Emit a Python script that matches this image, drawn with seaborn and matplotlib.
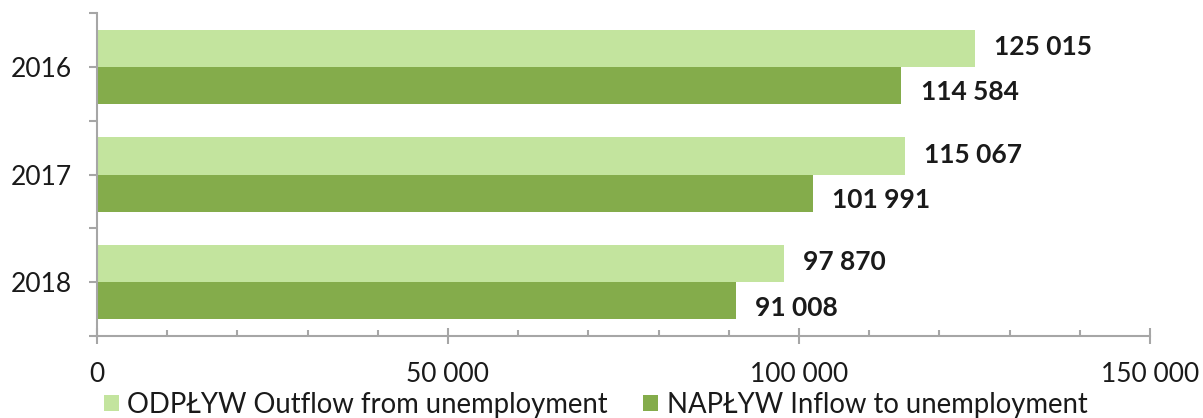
import matplotlib
matplotlib.use("Agg")
import matplotlib.pyplot as plt
from matplotlib.ticker import MultipleLocator, FuncFormatter, FixedLocator
import seaborn as sns
import pandas as pd

# Data
years = ["2016", "2017", "2018"]
outflow = [125015, 115067, 97870]
inflow = [114584, 101991, 91008]
series_names = ["ODPŁYW Outflow from unemployment", "NAPŁYW Inflow to unemployment"]

LIGHT = "#c3e49e"
DARK = "#84ac4b"
GREY = "#a6a6a6"
TEXT = "#1a1a1a"

sns.set_style("white")
plt.rcParams["font.family"] = ["Lato", "DejaVu Sans"]

df = pd.DataFrame({
    "year": years * 2,
    "value": outflow + inflow,
    "series": [series_names[0]] * len(years) + [series_names[1]] * len(years),
})

fig = plt.figure(figsize=(12.03, 4.18), dpi=100)
ax = fig.add_axes([97 / 1203, 1 - 336 / 418, (1150 - 97) / 1203, (336 - 13) / 418])

sns.barplot(data=df, y="year", x="value", hue="series", order=years,
            hue_order=series_names, palette=[LIGHT, DARK], width=0.69,
            linewidth=0, saturation=1, orient="h", ax=ax)

ax.set_xlim(0, 150000)
ax.set_ylim(2.5, -0.5)
ax.set_xlabel("")
ax.set_ylabel("")

fmt = lambda v, _: f"{int(v):,}".replace(",", " ")
ax.xaxis.set_major_locator(MultipleLocator(50000))
ax.xaxis.set_minor_locator(MultipleLocator(10000))
ax.xaxis.set_major_formatter(FuncFormatter(fmt))
ax.yaxis.set_minor_locator(FixedLocator([-0.5, 0.5, 1.5, 2.5]))

for s in ["top", "right"]:
    ax.spines[s].set_visible(False)
for s in ["left", "bottom"]:
    ax.spines[s].set_color(GREY)
    ax.spines[s].set_linewidth(1.5)

ax.tick_params(which="both", bottom=True, left=True)
ax.tick_params(axis="x", which="major", direction="inout", length=11, width=1.5,
               color=GREY, labelsize=19, labelcolor=TEXT, pad=13)
ax.tick_params(axis="x", which="minor", direction="in", length=4, width=1.5, color=GREY)
ax.tick_params(axis="y", which="both", direction="out", length=6, width=1.5,
               color=GREY, labelsize=19, labelcolor=TEXT, pad=12)

# value labels
offsets = [(14, 1), (14, -5)]
for cont, off in zip(ax.containers, offsets):
    for bar in cont:
        w = bar.get_width()
        ax.annotate(fmt(w, None), (w, bar.get_y() + bar.get_height() / 2),
                    xytext=off, textcoords="offset points", ha="left", va="center",
                    fontsize=19, fontweight="bold", color=TEXT)

handles, labels = ax.get_legend_handles_labels()
ax.legend(handles, labels, ncol=2, loc="center", bbox_to_anchor=(0.495, 0.032),
          bbox_transform=fig.transFigure, frameon=False, fontsize=19.8,
          handlelength=0.55, handleheight=0.55, handletextpad=0.3,
          columnspacing=1.3, borderpad=0, labelcolor=TEXT)

fig.savefig("out.png", dpi=100)
